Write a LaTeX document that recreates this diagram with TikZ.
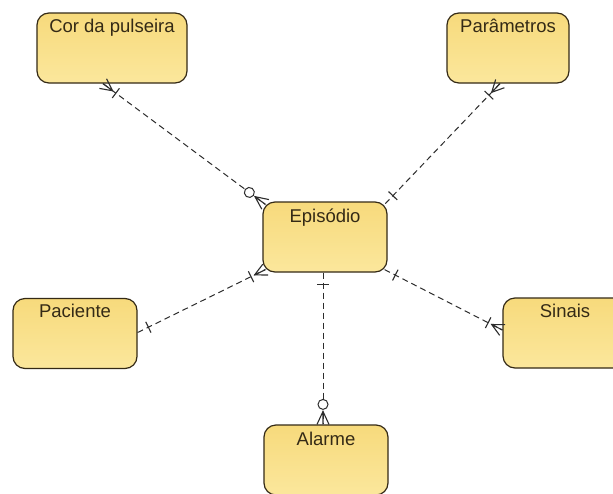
\documentclass[tikz,border=0pt]{standalone}
\usepackage{fontspec}
\setmainfont{Liberation Sans}
\usetikzlibrary{decorations.markings,calc}

\definecolor{entfill}{RGB}{247,218,124}
\definecolor{entfillb}{RGB}{251,231,156}
\definecolor{entline}{RGB}{52,42,22}
\definecolor{relline}{RGB}{45,45,45}

% Crow's-foot end marks, drawn in the local frame of a path end
% (origin on the entity border, x pointing away from the entity)
\newcommand\erOne{\draw[solid,relline,line width=1.1pt] (12pt,-6pt) -- (12pt,6pt);}
\newcommand\erOneMany{%
  \draw[solid,relline,line width=1.1pt] (0pt,-6pt) -- (12pt,0pt) -- (0pt,6pt)
    (0pt,0pt) -- (12pt,0pt) (16pt,-6pt) -- (16pt,6pt);}
\newcommand\erZeroMany{%
  \draw[solid,relline,line width=1.1pt] (0pt,-6pt) -- (13pt,0pt) -- (0pt,6pt)
    (0pt,0pt) -- (13pt,0pt);
  \draw[solid,relline,line width=1pt,fill=white] (20pt,0pt) circle[radius=5pt];}

\tikzset{
  entity/.style={draw=entline, line width=1.2pt, rounded corners=12pt,
    top color=entfill, bottom color=entfillb, minimum height=70pt, inner sep=0pt},
  entlabel/.style={anchor=base, font=\fontsize{18.5}{22}\selectfont,
    text=entline, inner sep=0pt},
  rel/.style={relline, line width=1pt, dash pattern=on 6pt off 4pt},
  erends/.style 2 args={postaction={decorate, decoration={markings,
    mark=at position 0 with {#1},
    mark=at position 1 with {\begin{scope}[xscale=-1]#2\end{scope}}}}}
}

\begin{document}
\begin{tikzpicture}[x=1pt,y=-1pt]
\clip (0,0) rectangle (613,493);
\fill[white] (0,0) rectangle (613,493);

% entities
\node[entity, minimum width=150pt] (cor) at (112,48) {};
\node[entity, minimum width=122pt] (par) at (508,48) {};
\node[entity, minimum width=124pt] (epi) at (325,237) {};
\node[entity, minimum width=124pt] (pac) at (75,333.5) {};
\node[entity, minimum width=124pt] (sin) at (565,333) {};
\node[entity, minimum width=124pt] (ala) at (326,460) {};

% entity names
\node[entlabel] (corT) at ([yshift=-20pt]cor.north) {Cor da pulseira};
\node[entlabel] (parT) at ([yshift=-20pt]par.north) {Parâmetros};
\node[entlabel] (epiT) at ([yshift=-21pt]epi.north) {Episódio};
\node[entlabel] (pacT) at ([yshift=-20pt]pac.north) {Paciente};
\node[entlabel] (sinT) at ([yshift=-20pt]sin.north) {Sinais};
\node[entlabel] (alaT) at ([yshift=-21pt]ala.north) {Alarme};

% relationships
\draw[rel, erends={\erOneMany}{\erZeroMany}]
  ($(cor.south)+(-9,0)$) -- ($(epi.north west)+(3,3)$);
\draw[rel, erends={\erOneMany}{\erOne}]
  ($(par.south)+(-8,0)$) -- ($(epi.north east)+(-3,3)$);
\draw[rel, erends={\erOne}{\erOneMany}]
  ($(pac.east)+(0,-1)$) -- ($(epi.south west)+(3,-3)$);
\draw[rel, erends={\erOne}{\erOneMany}]
  ($(epi.south east)+(-3,-3)$) -- ($(sin.west)+(0,-3)$);
\draw[rel, erends={\erOne}{\erZeroMany}]
  ($(epi.south)+(-2,0)$) -- ($(ala.north)+(-3,0)$);
\end{tikzpicture}
\end{document}
